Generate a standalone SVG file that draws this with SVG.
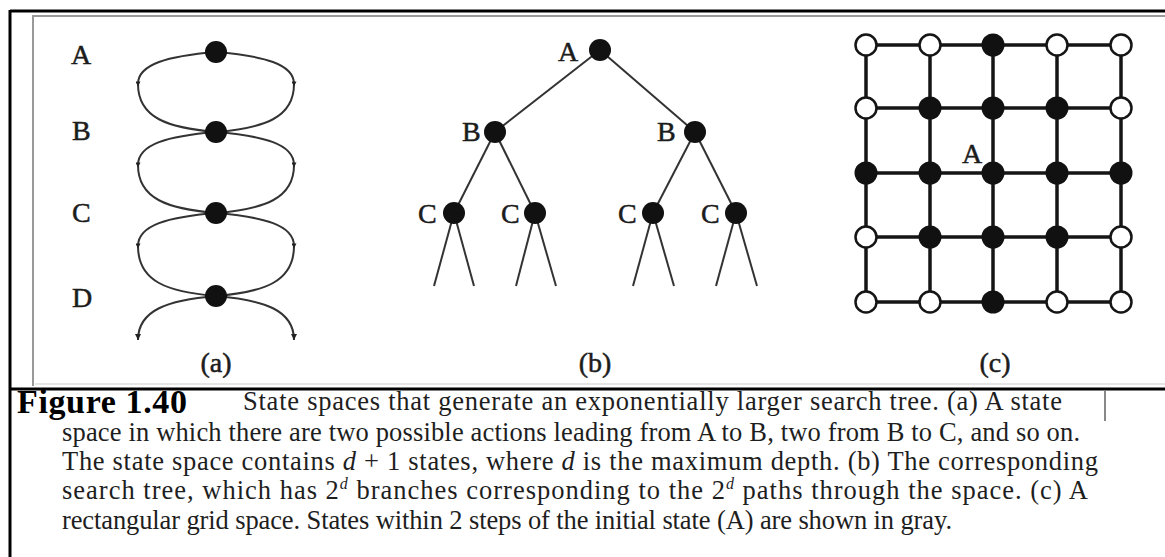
<svg xmlns="http://www.w3.org/2000/svg" width="1165" height="557" viewBox="0 0 1165 557">
  <defs>
    <!-- small arrowhead placed on the middle of each loop side -->
    <marker id="arrowMid" viewBox="0 0 10 10" refX="5" refY="5" markerWidth="8" markerHeight="5" markerUnits="userSpaceOnUse" orient="auto">
      <path d="M0,0 L10,5 L0,10 z" fill="#222"/>
    </marker>
    <!-- arrowhead at the open ends below D -->
    <marker id="arrowEnd" viewBox="0 0 10 10" refX="10" refY="5" markerWidth="9" markerHeight="6" markerUnits="userSpaceOnUse" orient="auto">
      <path d="M0,0 L10,5 L0,10 z" fill="#222"/>
    </marker>
  </defs>
  <style>
    .lbl { font-family: "Liberation Serif", "Times New Roman", serif; font-size: 28px; fill: #1c1c1c; stroke: #1c1c1c; stroke-width: 0.5; }
    .curve { fill: none; stroke: #333; stroke-width: 2; }
    .edge { fill: none; stroke: #333; stroke-width: 2; }
    .dot { fill: #111; }
    .grid { stroke: #151515; stroke-width: 3.5; }
    .open { fill: #fff; stroke: #151515; stroke-width: 2.5; }
    .cap { font-family: "Liberation Serif", "Times New Roman", serif; font-size: 26.5px; fill: #1e1e1e; }
    .fig { font-family: "Liberation Serif", "Times New Roman", serif; font-size: 34px; font-weight: bold; fill: #000; }
    .frame { stroke: #000; stroke-width: 3; fill: none; }
    .inner { stroke: #999; stroke-width: 2; fill: none; }
  </style>

  <rect x="0" y="0" width="1165" height="557" fill="#fff"/>

  <!-- frames -->
  <g id="frame">
    <line class="frame" x1="10" y1="11" x2="1165" y2="11"/>
    <line class="frame" x1="10" y1="10" x2="10" y2="557"/>
    <line class="frame" x1="10" y1="389" x2="1165" y2="389"/>
    <path class="inner" d="M33,386 L33,16 L1165,16"/>
    <line x1="35" y1="384" x2="1165" y2="384" stroke="#ddd" stroke-width="1.5"/>
    <line x1="1105" y1="391" x2="1105" y2="421" stroke="#888" stroke-width="2"/>
  </g>

  <!-- (a) state space with two actions between consecutive states -->
  <g id="connectors-a">
    <path class="curve" marker-mid="url(#arrowMid)" d="M216,52 C168,56 138,64 138,84 C138,118 168,128 216,132"/>
    <path class="curve" marker-mid="url(#arrowMid)" d="M216,52 C264,56 294,64 294,84 C294,118 264,128 216,132"/>
    <path class="curve" marker-mid="url(#arrowMid)" d="M216,132 C168,136 138,144 138,165 C138,199 168,209 216,213"/>
    <path class="curve" marker-mid="url(#arrowMid)" d="M216,132 C264,136 294,144 294,165 C294,199 264,209 216,213"/>
    <path class="curve" marker-mid="url(#arrowMid)" d="M216,213 C168,217 138,225 138,246 C138,282 168,292 216,296"/>
    <path class="curve" marker-mid="url(#arrowMid)" d="M216,213 C264,217 294,225 294,246 C294,282 264,292 216,296"/>
    <path class="curve" marker-end="url(#arrowEnd)" d="M216,296 C168,300 138,310 138,340"/>
    <path class="curve" marker-end="url(#arrowEnd)" d="M216,296 C264,300 294,310 294,340"/>
  </g>
  <g id="a-A"><circle class="dot" cx="216" cy="52" r="11"/><text class="lbl" x="71" y="64">A</text></g>
  <g id="a-B"><circle class="dot" cx="216" cy="132" r="11"/><text class="lbl" x="72" y="140">B</text></g>
  <g id="a-C"><circle class="dot" cx="216" cy="213" r="11"/><text class="lbl" x="72" y="222">C</text></g>
  <g id="a-D"><circle class="dot" cx="216" cy="296" r="11"/><text class="lbl" x="72" y="307">D</text></g>
  <text class="lbl" x="216" y="372" text-anchor="middle">(a)</text>

  <!-- (b) the corresponding search tree -->
  <g id="connectors-b">
    <line class="edge" x1="600" y1="50" x2="495" y2="132"/>
    <line class="edge" x1="600" y1="50" x2="695" y2="132"/>
    <line class="edge" x1="495" y1="132" x2="454" y2="213"/>
    <line class="edge" x1="495" y1="132" x2="535" y2="213"/>
    <line class="edge" x1="695" y1="132" x2="653" y2="213"/>
    <line class="edge" x1="695" y1="132" x2="736" y2="213"/>
    <line class="edge" x1="454" y1="213" x2="434" y2="286"/>
    <line class="edge" x1="454" y1="213" x2="474" y2="286"/>
    <line class="edge" x1="535" y1="213" x2="516" y2="286"/>
    <line class="edge" x1="535" y1="213" x2="556" y2="286"/>
    <line class="edge" x1="653" y1="213" x2="633" y2="286"/>
    <line class="edge" x1="653" y1="213" x2="674" y2="286"/>
    <line class="edge" x1="736" y1="213" x2="716" y2="286"/>
    <line class="edge" x1="736" y1="213" x2="757" y2="286"/>
  </g>
  <g id="b-A"><circle class="dot" cx="600" cy="50" r="11"/><text class="lbl" x="558" y="61">A</text></g>
  <g id="b-B1"><circle class="dot" cx="495" cy="132" r="11"/><text class="lbl" x="462" y="141">B</text></g>
  <g id="b-B2"><circle class="dot" cx="695" cy="132" r="11"/><text class="lbl" x="657" y="141">B</text></g>
  <g id="b-C1"><circle class="dot" cx="454" cy="213" r="11"/><text class="lbl" x="418" y="223">C</text></g>
  <g id="b-C2"><circle class="dot" cx="535" cy="213" r="11"/><text class="lbl" x="501" y="223">C</text></g>
  <g id="b-C3"><circle class="dot" cx="653" cy="213" r="11"/><text class="lbl" x="618" y="223">C</text></g>
  <g id="b-C4"><circle class="dot" cx="736" cy="213" r="11"/><text class="lbl" x="701" y="223">C</text></g>
  <text class="lbl" x="595" y="372" text-anchor="middle">(b)</text>

  <!-- (c) rectangular grid -->
  <g id="connectors-c">
    <line class="grid" x1="866" y1="45" x2="1121" y2="45"/>
    <line class="grid" x1="866" y1="108" x2="1121" y2="108"/>
    <line class="grid" x1="866" y1="173" x2="1121" y2="173"/>
    <line class="grid" x1="866" y1="237" x2="1121" y2="237"/>
    <line class="grid" x1="866" y1="302" x2="1121" y2="302"/>
    <line class="grid" x1="866" y1="45" x2="866" y2="302"/>
    <line class="grid" x1="930" y1="45" x2="930" y2="302"/>
    <line class="grid" x1="993" y1="45" x2="993" y2="302"/>
    <line class="grid" x1="1057" y1="45" x2="1057" y2="302"/>
    <line class="grid" x1="1121" y1="45" x2="1121" y2="302"/>
  </g>
  <g id="grid-nodes">
    <g id="r0">
      <circle class="open" cx="866" cy="45" r="10.5"/>
      <circle class="open" cx="930" cy="45" r="10.5"/>
      <circle class="dot" cx="993" cy="45" r="11.5"/>
      <circle class="open" cx="1057" cy="45" r="10.5"/>
      <circle class="open" cx="1121" cy="45" r="10.5"/>
    </g>
    <g id="r1">
      <circle class="open" cx="866" cy="108" r="10.5"/>
      <circle class="dot" cx="930" cy="108" r="11.5"/>
      <circle class="dot" cx="993" cy="108" r="11.5"/>
      <circle class="dot" cx="1057" cy="108" r="11.5"/>
      <circle class="open" cx="1121" cy="108" r="10.5"/>
    </g>
    <g id="r2">
      <circle class="dot" cx="866" cy="173" r="11.5"/>
      <circle class="dot" cx="930" cy="173" r="11.5"/>
      <circle class="dot" cx="993" cy="173" r="11.5"/>
      <circle class="dot" cx="1057" cy="173" r="11.5"/>
      <circle class="dot" cx="1121" cy="173" r="11.5"/>
    </g>
    <g id="r3">
      <circle class="open" cx="866" cy="237" r="10.5"/>
      <circle class="dot" cx="930" cy="237" r="11.5"/>
      <circle class="dot" cx="993" cy="237" r="11.5"/>
      <circle class="dot" cx="1057" cy="237" r="11.5"/>
      <circle class="open" cx="1121" cy="237" r="10.5"/>
    </g>
    <g id="r4">
      <circle class="open" cx="866" cy="302" r="10.5"/>
      <circle class="open" cx="930" cy="302" r="10.5"/>
      <circle class="dot" cx="993" cy="302" r="11.5"/>
      <circle class="open" cx="1057" cy="302" r="10.5"/>
      <circle class="open" cx="1121" cy="302" r="10.5"/>
    </g>
  </g>
  <text class="lbl" x="972" y="163" text-anchor="middle">A</text>
  <text class="lbl" x="995" y="372" text-anchor="middle">(c)</text>

  <!-- caption -->
  <g id="caption">
    <text class="fig" x="17" y="413" textLength="170">Figure 1.40</text>
    <text class="cap" x="243" y="410" textLength="819">State spaces that generate an exponentially larger search tree.  (a) A state</text>
    <text class="cap" x="62" y="441" textLength="1018">space in which there are two possible actions leading from A to B, two from B to C, and so on.</text>
    <text class="cap" x="62" y="470" textLength="1036">The state space contains <tspan font-style="italic">d</tspan> + 1 states, where <tspan font-style="italic">d</tspan> is the maximum depth. (b) The corresponding</text>
    <text class="cap" x="62" y="499" textLength="1026">search tree, which has 2<tspan font-size="16" dy="-10" font-style="italic">d</tspan><tspan dy="10"> branches corresponding to the 2</tspan><tspan font-size="16" dy="-10" font-style="italic">d</tspan><tspan dy="10"> paths through the space. (c) A</tspan></text>
    <text class="cap" x="62" y="529" textLength="890">rectangular grid space. States within 2 steps of the initial state (A) are shown in gray.</text>
  </g>
</svg>
